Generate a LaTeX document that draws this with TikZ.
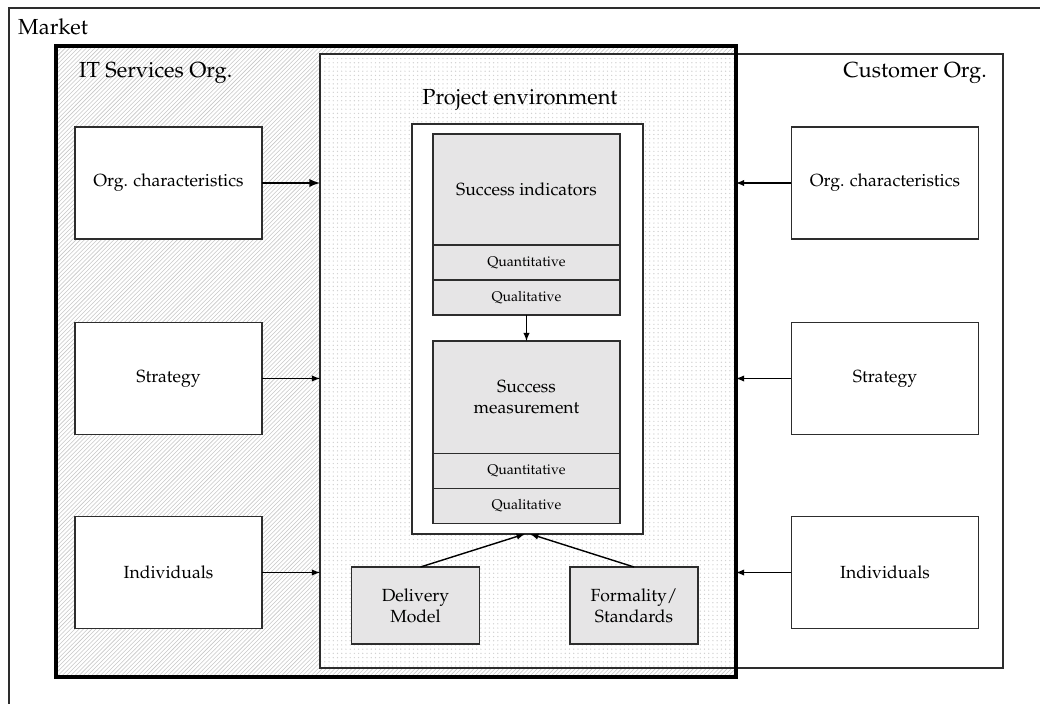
\documentclass[tikz,border=0pt]{standalone}
\usepackage[T1]{fontenc}
\renewcommand{\rmdefault}{ppl}
\usepackage{tikz}
\usetikzlibrary{arrows,positioning,shapes,patterns}

\definecolor{boxgray}{RGB}{230,229,230}
\definecolor{linegray}{RGB}{45,45,45}

\begin{document}
\begin{tikzpicture}[x=0.025cm,y=-0.025cm,
            box/.style={draw=linegray,fill=white,line width=0.8pt,outer sep=0,align=center,font=\fontsize{12.5}{15}\selectfont},
            orgbox/.style={box,minimum width=4.675cm,minimum height=2.8cm},
            metric/.style={box,fill=boxgray,minimum width=4.675cm,minimum height=2.8cm},
            row/.style={box,fill=boxgray,minimum width=4.675cm,minimum height=0.875cm,font=\fontsize{10}{12}\selectfont},
            factor/.style={box,fill=boxgray,minimum width=3.2cm,minimum height=1.925cm},
            lab/.style={font=\fontsize{15.5}{18}\selectfont},
            every path/.style={line width=0.8pt},
            arr/.style={draw=black,->,>=latex,line width=1pt}
          ]
          \useasboundingbox (0,0) rectangle (1040,704);

          % frames
          \draw[linegray] (9,8) rectangle (1060,720);
          \fill[pattern=north east lines,pattern color=black!22] (56,46) rectangle (736,677);
          \draw[linegray,fill=white] (320,54) rectangle (1003,668);
          \fill[pattern=dots,pattern color=black!18] (320,54) rectangle (736,668);
          \draw[linegray] (320,54) rectangle (736,668);
          \draw[black,line width=2.4pt] (56,46) rectangle (736,677);
          \coordinate (penvW) at (320,54);
          \coordinate (penvE) at (736,54);

          %labels
          \node[lab,anchor=west] (market) at (13,27) {Market};
          \node[lab,anchor=west] (itorg) at (74,73) {IT Services Org.};
          \node[lab,anchor=east] (custorg) at (992,73) {Customer Org.};
          \node[lab] (penv) at (520,100) {Project environment};

          % IT services org
          \node[orgbox] (itchar) at (168.5,183) {Org. characteristics};
          \node[orgbox] (itstrat) at (168.5,378.5) {Strategy};
          \node[orgbox] (itind) at (168.5,572.5) {Individuals};

          % customer org
          \node[orgbox] (cuchar) at (885,183) {Org. characteristics};
          \node[orgbox] (custrat) at (885,378.5) {Strategy};
          \node[orgbox] (cuind) at (885,572.5) {Individuals};

          % project environment
          \node[draw=linegray,fill=white,minimum width=5.775cm,minimum height=10.25cm,outer sep=0] (inner) at (527.5,329) {};
          \node[metric,minimum height=2.775cm] (sind) at (526.5,189.5) {Success indicators};
          \node[row,below=0pt of sind] (sindqn) {Quantitative};
          \node[row,below=0pt of sindqn] (sindql) {Qualitative};
          \node[metric,below=0.65cm of sindql] (smeas) {Success\\measurement};
          \node[row,below=0pt of smeas] (smeasqn) {Quantitative};
          \node[row,below=0pt of smeasqn] (smeasql) {Qualitative};
          \node[factor] (deliv) at (415.5,605.5) {Delivery\\Model};
          \node[factor] (formal) at (634,605.5) {Formality/\\Standards};

          % arrows
          \draw[arr,line width=1.6pt] (itchar.east) -- (itchar.east -| penvW);
          \draw[arr] (itstrat.east) -- (itstrat.east -| penvW);
          \draw[arr] (itind.east) -- (itind.east -| penvW);
          \draw[arr] (cuchar.west) -- (cuchar.west -| penvE);
          \draw[arr] (custrat.west) -- (custrat.west -| penvE);
          \draw[arr] (cuind.west) -- (cuind.west -| penvE);
          \draw[arr] (sindql.south) -- (smeas.north);
          \draw[arr] (deliv.north) ++(5,0) -- ([xshift=-2]inner.south);
          \draw[arr] (formal.north) -- ([xshift=2]inner.south);
      \end{tikzpicture}
\end{document}
